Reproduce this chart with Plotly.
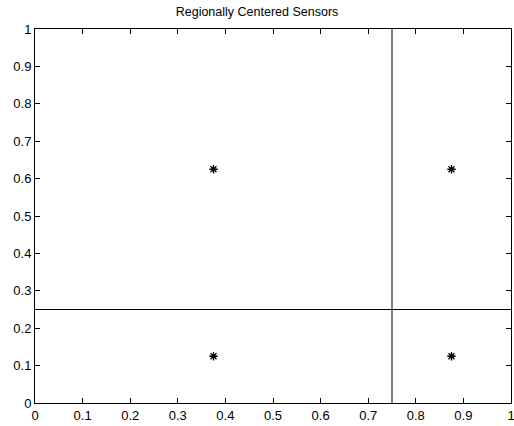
import plotly.graph_objects as go

sensor_x = [0.375, 0.875, 0.375, 0.875]
sensor_y = [0.625, 0.625, 0.125, 0.125]
vline_x = [0.75, 0.75]
vline_y = [0, 1]
hline_x = [0, 1]
hline_y = [0.25, 0.25]
tick_vals = [0, 0.1, 0.2, 0.3, 0.4, 0.5, 0.6, 0.7, 0.8, 0.9, 1]
tick_text = ["0", "0.1", "0.2", "0.3", "0.4", "0.5", "0.6", "0.7", "0.8", "0.9", "1"]

fig = go.Figure()
fig.add_trace(go.Scatter(x=vline_x, y=vline_y, mode="lines", line=dict(color="black", width=1), hoverinfo="skip", cliponaxis=False))
fig.add_trace(go.Scatter(x=hline_x, y=hline_y, mode="lines", line=dict(color="black", width=1), hoverinfo="skip", cliponaxis=False))
fig.add_trace(go.Scatter(x=sensor_x, y=sensor_y, mode="markers",
                         marker=dict(symbol="asterisk-open", size=7, color="black",
                                     line=dict(color="black", width=1.3))))

axis_common = dict(range=[0, 1], tickvals=tick_vals, ticktext=tick_text, ticks="inside", ticklen=5,
                   tickcolor="black", showline=True, linecolor="black", linewidth=1, mirror="ticks",
                   showgrid=False, zeroline=False, automargin=False, ticklabeloverflow="allow",
                   tickfont=dict(family="Liberation Sans, Arial", size=13, color="black"))

fig.update_layout(
    width=514, height=426,
    margin=dict(l=35, r=3, t=29, b=23),
    paper_bgcolor="white", plot_bgcolor="white",
    showlegend=False,
    title=dict(text="Regionally Centered Sensors", x=0.5, xanchor="center", y=1 - 12/426, yanchor="middle",
               font=dict(family="Liberation Sans, Arial", size=12.5, color="black")),
    xaxis=axis_common,
    yaxis=axis_common,
)
fig.write_html("out.html", config={"displayModeBar": False},
               post_script="document.body.style.margin='0';document.body.style.overflow='hidden';")
